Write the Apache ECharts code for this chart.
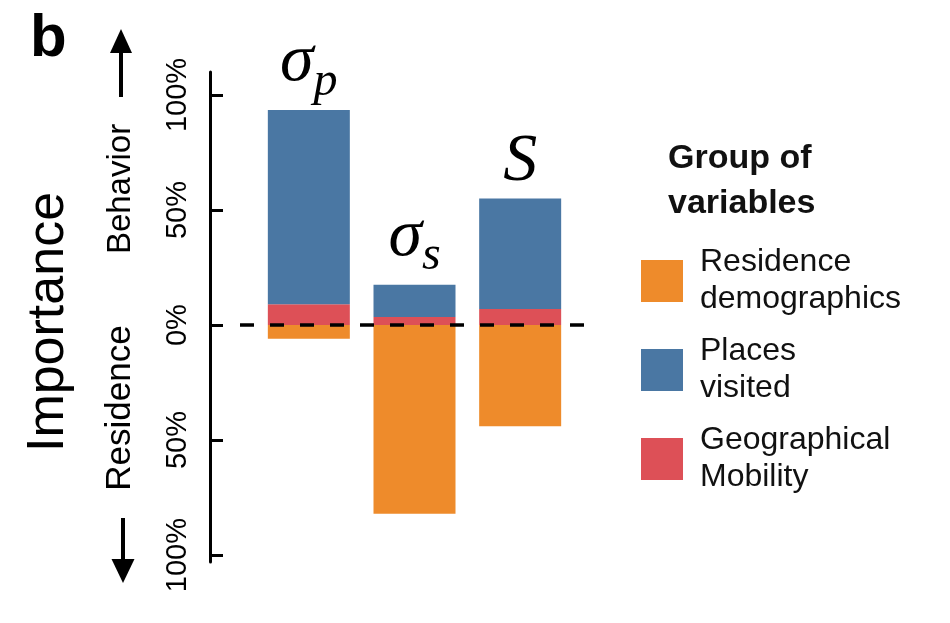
<!DOCTYPE html>
<html><head><meta charset="utf-8">
<script src="https://cdn.jsdelivr.net/npm/echarts@6/dist/echarts.min.js"></script>
<style>html,body{margin:0;padding:0;background:#fff}#c{width:950px;height:623px}</style>
</head><body><div id="c"></div>
<script>
// ---- data ----
const categories = ['σp', 'σs', 'S'];
const labelMain = ['σ', 'σ', 'S'];
const labelSub = ['p', 's', ''];
const residenceDemographics = [-6, -82, -44];
const geographicalMobility = [9, 3.5, 7];
const placesVisited = [84.5, 14, 48];
const tickValues = [-100, -50, 0, 50, 100];
const zeroLine = [[0, 0], [1, 0]];
const legendOrder = ['Residence demographics', 'Places visited', 'Geographical Mobility'];
const legendText = {
  'Residence demographics': 'Residence\ndemographics',
  'Places visited': 'Places\nvisited',
  'Geographical Mobility': 'Geographical\nMobility'
};

const SANS = '"Liberation Sans", Arial, Helvetica, sans-serif';
const SERIF = '"Liberation Serif", "Times New Roman", serif';
const C_ORANGE = '#EE8B2B', C_BLUE = '#4A77A3', C_RED = '#DD5057';
const Y_MIN = -103, Y_MAX = 110;

const chart = echarts.init(document.getElementById('c'), null, {renderer: 'canvas'});

function arrow(x, yTail, yBase, yTip, half) {
  return {
    type: 'group',
    children: [
      {type: 'line', shape: {x1: x, y1: yTail, x2: x, y2: yBase}, style: {stroke: '#000', lineWidth: 4}},
      {type: 'polygon', shape: {points: [[x - half, yBase], [x + half, yBase], [x, yTip]]}, style: {fill: '#000'}}
    ]
  };
}

const option = {
  backgroundColor: '#fff',
  animation: false,
  title: {
    text: 'Group of\nvariables',
    left: 668, top: 136, padding: 0,
    textStyle: {fontFamily: SANS, fontSize: 34, fontWeight: 'bold', color: '#111', lineHeight: 45}
  },
  legend: {
    data: legendOrder,
    orient: 'vertical',
    left: 641, top: 244, padding: 0,
    itemWidth: 42, itemHeight: 42, itemGap: 15,
    icon: 'rect',
    selectedMode: false,
    formatter: n => legendText[n],
    textStyle: {fontFamily: SANS, fontSize: 32, lineHeight: 37, color: '#111', padding: [0, 0, 0, 12]}
  },
  grid: [
    {left: 256, width: 317, top: 72, height: 490, containLabel: false},
    {left: 240, width: 347, top: 72, height: 490, containLabel: false}
  ],
  xAxis: [
    {type: 'category', data: categories, gridIndex: 0, show: false},
    {type: 'value', min: 0, max: 1, gridIndex: 1, show: false}
  ],
  yAxis: [
    {
      type: 'value', gridIndex: 0, min: Y_MIN, max: Y_MAX, offset: 46,
      splitLine: {show: false},
      axisLine: {show: true, lineStyle: {color: '#000', width: 3}},
      axisTick: {show: true, inside: true, length: 13, customValues: tickValues, lineStyle: {color: '#000', width: 3}},
      axisLabel: {
        show: true, rotate: 90, margin: 18, customValues: tickValues,
        formatter: v => Math.abs(v) + '%',
        fontFamily: SANS, fontSize: 29, color: '#000'
      }
    },
    {type: 'value', gridIndex: 1, min: Y_MIN, max: Y_MAX, show: false}
  ],
  series: [
    {
      name: 'Residence demographics', type: 'bar', stack: 'imp', barWidth: 82,
      data: residenceDemographics, itemStyle: {color: C_ORANGE}
    },
    {
      name: 'Geographical Mobility', type: 'bar', stack: 'imp', barWidth: 82,
      data: geographicalMobility, itemStyle: {color: C_RED}
    },
    {
      name: 'Places visited', type: 'bar', stack: 'imp', barWidth: 82,
      data: placesVisited, itemStyle: {color: C_BLUE},
      label: {
        show: true, position: 'top', distance: 14,
        formatter: p => labelSub[p.dataIndex]
          ? '{m|' + labelMain[p.dataIndex] + '}{s|' + labelSub[p.dataIndex] + '}'
          : '{n|' + labelMain[p.dataIndex] + '}',
        rich: {
          m: {fontFamily: SERIF, fontStyle: 'italic', fontSize: 68, lineHeight: 68, color: '#000'},
          n: {fontFamily: SERIF, fontStyle: 'italic', fontSize: 68, lineHeight: 44, color: '#000'},
          s: {fontFamily: SERIF, fontStyle: 'italic', fontSize: 48, lineHeight: 48, padding: [40, 0, 0, 0], color: '#000'}
        }
      }
    },
    {
      name: 'zero', type: 'line', xAxisIndex: 1, yAxisIndex: 1, data: zeroLine,
      symbol: 'none', z: 10, silent: true,
      lineStyle: {color: '#000', width: 3.5, type: [14, 16]}
    }
  ],
  graphic: [
    {type: 'text', x: 30, y: 9, style: {text: 'b', fontFamily: SANS, fontWeight: 'bold', fontSize: 60, fill: '#000', align: 'left', verticalAlign: 'top'}},
    {type: 'text', x: 49, y: 322, rotation: Math.PI / 2, style: {text: 'Importance', fontFamily: SANS, fontSize: 52, fill: '#000', align: 'center', verticalAlign: 'middle'}},
    {type: 'text', x: 121, y: 189, rotation: Math.PI / 2, style: {text: 'Behavior', fontFamily: SANS, fontSize: 33, fill: '#000', align: 'center', verticalAlign: 'middle'}},
    {type: 'text', x: 120, y: 408, rotation: Math.PI / 2, style: {text: 'Residence', fontFamily: SANS, fontSize: 35, fill: '#000', align: 'center', verticalAlign: 'middle'}},
    arrow(121, 97, 53, 29, 11),
    arrow(123, 518, 559, 583, 11.5)
  ]
};
chart.setOption(option);
</script>
</body></html>
